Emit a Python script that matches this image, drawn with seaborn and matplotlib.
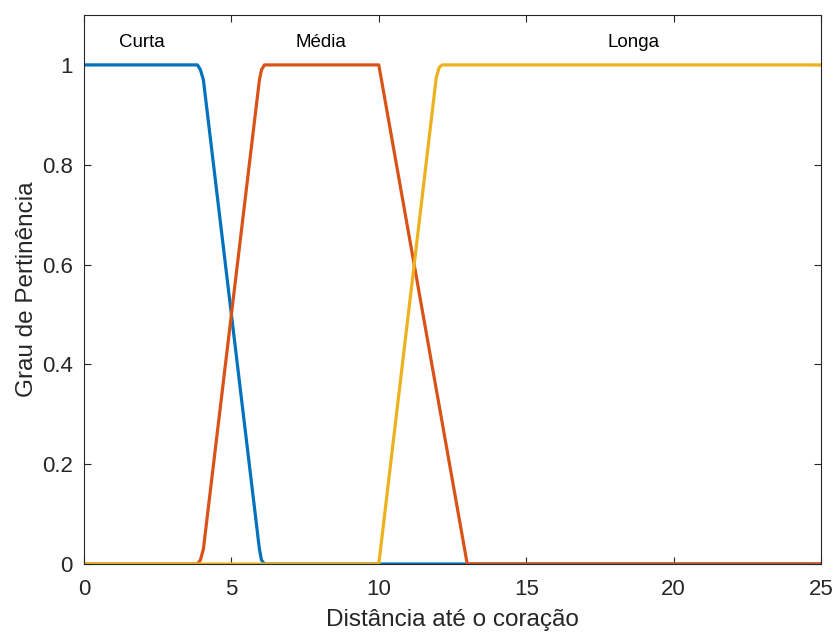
import matplotlib
matplotlib.use("Agg")
import matplotlib.pyplot as plt
import seaborn as sns
import pandas as pd

# Funções de pertinência
curta_x = [0, 3.85, 3.95, 4.05, 5.95, 6.02, 6.12, 25]
curta_y = [1, 1, 0.99, 0.97, 0.03, 0.008, 0, 0]

media_x = [0, 3.85, 3.95, 4.05, 5.95, 6.02, 6.12, 10, 13, 25]
media_y = [0, 0, 0.008, 0.03, 0.97, 0.99, 1, 1, 0, 0]

longa_x = [0, 10, 11.95, 12.05, 12.15, 25]
longa_y = [0, 0, 0.975, 0.995, 1, 1]

nomes = ['Curta', 'Média', 'Longa']
nome_x = [1.97, 8.05, 18.65]
nome_y = 1.044

xticks = [0, 5, 10, 15, 20, 25]
yticks = [0, 0.2, 0.4, 0.6, 0.8, 1]
ytick_labels = ['0', '0.2', '0.4', '0.6', '0.8', '1']

cores = ['#0072BD', '#D95319', '#EDB120']

df = pd.concat([
    pd.DataFrame({'x': curta_x, 'y': curta_y, 'mf': 'Curta'}),
    pd.DataFrame({'x': media_x, 'y': media_y, 'mf': 'Média'}),
    pd.DataFrame({'x': longa_x, 'y': longa_y, 'mf': 'Longa'}),
])

sns.set_style("ticks")
plt.rcParams['font.family'] = ['Liberation Sans', 'DejaVu Sans']
plt.rcParams['xtick.direction'] = 'in'
plt.rcParams['ytick.direction'] = 'in'

fig = plt.figure(figsize=(8.37, 6.34), dpi=100)
ax = fig.add_axes([84 / 837, 1 - 564 / 634, (821 - 84) / 837, (564 - 15) / 634])

sns.lineplot(data=df, x='x', y='y', hue='mf', palette=cores, sort=False,
             linewidth=2.3, legend=False, ax=ax)

for nome, xn in zip(nomes, nome_x):
    ax.text(xn, nome_y, nome, ha='center', va='center', fontsize=13.5, color='black')

ax.set_xlim(0, 25)
ax.set_ylim(0, 1.1)
ax.set_xticks(xticks)
ax.set_xticklabels([str(t) for t in xticks])
ax.set_yticks(yticks)
ax.set_yticklabels(ytick_labels)
ax.tick_params(axis='both', labelsize=16, length=5, width=0.8, colors='#262626',
               top=True, right=True)
ax.tick_params(axis='x', pad=11)
ax.tick_params(axis='y', pad=8)
for s in ax.spines.values():
    s.set_color('#262626')
    s.set_linewidth(0.8)
    s.set_visible(True)

ax.set_xlabel('Distância até o coração', fontsize=17.5, color='#262626', labelpad=6)
ax.set_ylabel('Grau de Pertinência', fontsize=17.5, color='#262626', labelpad=3)

fig.savefig('out.png', dpi=100)
